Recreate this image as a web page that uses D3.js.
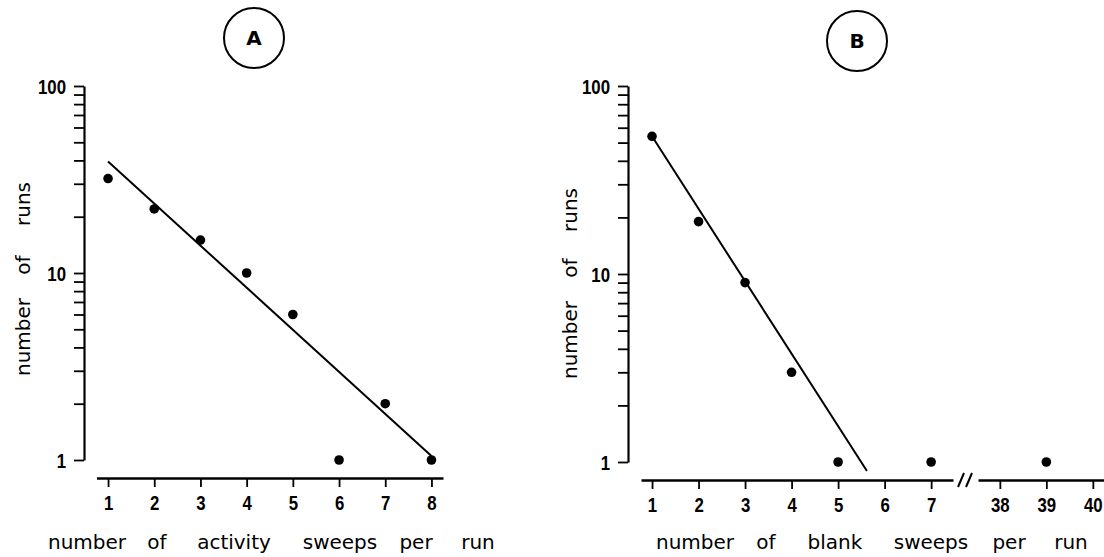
<!DOCTYPE html>
<html>
<head>
<meta charset="utf-8">
<script src="https://cdn.jsdelivr.net/npm/d3@7"></script>
<style>
  html, body { margin: 0; padding: 0; background: #fff; }
  svg { display: block; }
  .tick text { font-family: "Liberation Sans", Arial, sans-serif; font-weight: bold; font-size: 21px; fill: #000; }
  .title { font-family: "DejaVu Sans", sans-serif; font-size: 20px; fill: #000; }
  .panel { font-family: "DejaVu Sans", sans-serif; font-weight: bold; font-size: 20px; fill: #000; }
</style>
</head>
<body>
<svg id="chart" width="1104" height="557"></svg>
<script>
// ---- data ----
const categoriesA = [1, 2, 3, 4, 5, 6, 7, 8];
const runsA = [32, 22, 15, 10, 6, 1, 2, 1];
const fitA = [[1, 39.5], [8, 1.05]];

const categoriesB = [1, 2, 3, 4, 5, 7, 39];
const runsB = [54, 19, 9, 3, 1, 1, 1];
const fitB = [[1, 54], [5.62, 0.895]];

const yTickValues = [1, 2, 3, 4, 5, 6, 7, 8, 9, 10, 20, 30, 40, 50, 60, 70, 80, 90, 100];
const yTickLabels = [1, 10, 100];
const xTicksA = [1, 2, 3, 4, 5, 6, 7, 8];
const xTicksBLeft = [1, 2, 3, 4, 5, 6, 7];
const xTicksBRight = [38, 39, 40];

const xTitleA = ["number", "of", "activity", "sweeps", "per", "run"];
const xTitleB = ["number", "of", "blank", "sweeps", "per", "run"];
const yTitle = ["number", "of", "runs"];

// ---- drawing ----
const svg = d3.select("#chart");
const black = "#000";
const fmt = d3.format("d");
const squeeze = 0.8; // narrow plotter-style digits

function yAxis(g, y) {
  g.call(d3.axisLeft(y).tickValues(yTickValues).tickSize(10).tickSizeOuter(0).tickPadding(8)
    .tickFormat(d => yTickLabels.includes(d) ? fmt(d) : ""));
  g.select(".domain").attr("stroke", black).attr("stroke-width", 2.2);
  g.selectAll(".tick line").attr("stroke", black).attr("stroke-width", 1.8);
  g.selectAll(".tick text").attr("dy", "0.36em")
    .attr("x", -18 / squeeze).attr("transform", `scale(${squeeze},1)`);
}

function xAxis(g, x, ticks) {
  g.call(d3.axisBottom(x).tickValues(ticks).tickFormat(fmt).tickSize(9).tickSizeOuter(0).tickPadding(8));
  g.select(".domain").attr("stroke", black).attr("stroke-width", 2.4);
  g.selectAll(".tick line").attr("stroke", black).attr("stroke-width", 1.8);
  g.selectAll(".tick text").attr("transform", `scale(${squeeze},1)`);
}

function panelLabel(cx, cy, letter) {
  svg.append("circle").attr("cx", cx).attr("cy", cy).attr("r", 30)
    .attr("fill", "none").attr("stroke", black).attr("stroke-width", 2);
  svg.append("text").attr("class", "panel").attr("x", cx).attr("y", cy)
    .attr("text-anchor", "middle").attr("dy", "0.36em").text(letter);
}

function words(list, xs, y) {
  list.forEach((w, i) => {
    svg.append("text").attr("class", "title").attr("x", xs[i]).attr("y", y)
      .attr("text-anchor", "middle").text(w);
  });
}

function vwords(list, ys, x) {
  list.forEach((w, i) => {
    svg.append("text").attr("class", "title")
      .attr("transform", `translate(${x},${ys[i]}) rotate(-90)`)
      .attr("text-anchor", "middle").text(w);
  });
}

function dots(x, y, cats, vals) {
  svg.append("g").selectAll("circle").data(cats.map((c, i) => [c, vals[i]])).join("circle")
    .attr("cx", d => x(d[0])).attr("cy", d => y(d[1])).attr("r", 4.8).attr("fill", black);
}

// Panel A
const yA = d3.scaleLog().domain([1, 100]).range([460, 86]);
const xA = d3.scaleLinear().domain([0.75, 8.25]).range([96.5, 443]);
svg.append("g").attr("transform", "translate(84,0)").call(g => yAxis(g, yA));
svg.append("g").attr("transform", "translate(0,478)").call(g => xAxis(g, xA, xTicksA));
svg.append("path").datum(fitA)
  .attr("d", d3.line().x(d => xA(d[0])).y(d => yA(d[1])))
  .attr("fill", "none").attr("stroke", black).attr("stroke-width", 2);
dots(xA, yA, categoriesA, runsA);
panelLabel(254, 38, "A");
words(xTitleA, [87, 157, 234, 340, 416, 478], 549);
vwords(yTitle, [337, 265, 204], 30);

// Panel B
const yB = d3.scaleLog().domain([1, 100]).range([462, 86]);
const xBL = d3.scaleLinear().domain([0.763, 7.47]).range([641, 953]);
const xBR = d3.scaleLinear().domain([37.53, 40.24]).range([978, 1104]);
const xB = v => v <= 10 ? xBL(v) : xBR(v);
svg.append("g").attr("transform", "translate(628,0)").call(g => yAxis(g, yB));
svg.append("g").attr("transform", "translate(0,480)").call(g => xAxis(g, xBL, xTicksBLeft));
svg.append("g").attr("transform", "translate(0,480)").call(g => xAxis(g, xBR, xTicksBRight));
// axis break marks
svg.append("g").selectAll("line").data([0, 8]).join("line")
  .attr("x1", d => 958 + d).attr("y1", 487).attr("x2", d => 964 + d).attr("y2", 473)
  .attr("stroke", black).attr("stroke-width", 2);
svg.append("path").datum(fitB)
  .attr("d", d3.line().x(d => xB(d[0])).y(d => yB(d[1])))
  .attr("fill", "none").attr("stroke", black).attr("stroke-width", 2);
dots(xB, yB, categoriesB, runsB);
panelLabel(857, 41, "B");
words(xTitleB, [695, 766, 835, 931, 1009, 1071], 549);
vwords(yTitle, [340, 268, 210], 577);
</script>
</body>
</html>
